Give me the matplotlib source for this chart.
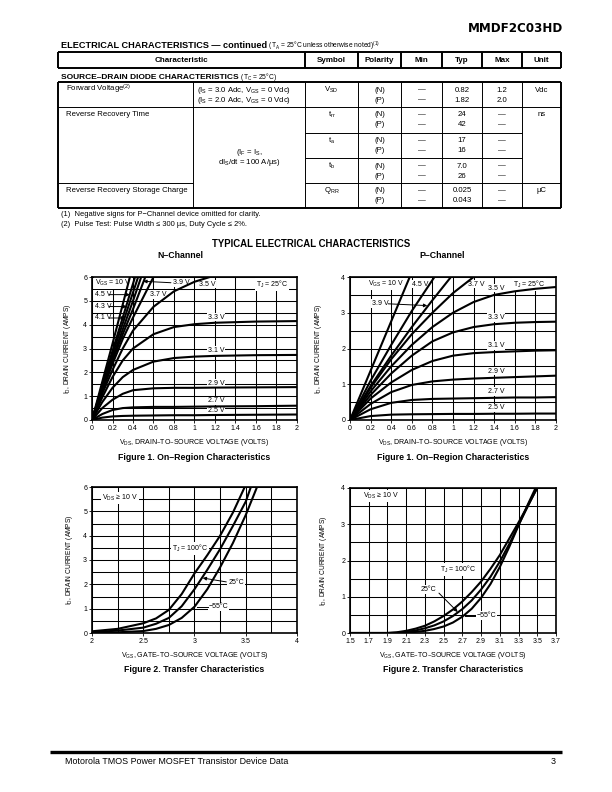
import matplotlib
matplotlib.use('Agg')
import matplotlib.pyplot as plt

plt.rcParams['font.family'] = ['Liberation Sans', 'DejaVu Sans']
plt.rcParams['mathtext.default'] = 'regular'

W, H = 612, 792

# ---------------- table data ----------------
col_heads = ['Characteristic', 'Symbol', 'Polarity', 'Min', 'Typ', 'Max', 'Unit']
col_edges = [58, 193, 305, 358, 401, 442, 482, 522, 561]

sym_rows = ['$V_{SD}$', '$t_{rr}$', '$t_{a}$', '$t_{b}$', '$Q_{RR}$']
typ_n = ['0.82', '24', '17', '7.0', '0.025']
typ_p = ['1.82', '42', '16', '26', '0.043']
max_n = ['1.2', '\u2014', '\u2014', '\u2014', '\u2014']
max_p = ['2.0', '\u2014', '\u2014', '\u2014', '\u2014']
row_tops = [82, 107, 133, 158, 183]

# ---------------- figure 1 data (on-region) ----------------
# N-channel, T_J = 25C
n_on_x_10 = [0, 0.1, 0.2, 0.3, 0.37]
n_on_y_10 = [0, 1.6, 3.2, 4.85, 6.0]
n_on_x_45 = [0, 0.1, 0.2, 0.3, 0.42]
n_on_y_45 = [0, 1.45, 2.9, 4.3, 6.0]
n_on_x_43 = [0, 0.1, 0.2, 0.3, 0.45]
n_on_y_43 = [0, 1.4, 2.75, 4.05, 6.0]
n_on_x_41 = [0, 0.1, 0.2, 0.3, 0.4, 0.48]
n_on_y_41 = [0, 1.35, 2.6, 3.8, 5.0, 6.0]
n_on_x_39 = [0, 0.1, 0.2, 0.3, 0.4, 0.52]
n_on_y_39 = [0, 1.3, 2.5, 3.6, 4.65, 6.0]
n_on_x_37 = [0, 0.1, 0.2, 0.3, 0.4, 0.5, 0.6]
n_on_y_37 = [0, 1.2, 2.35, 3.4, 4.3, 5.15, 6.0]
n_on_x_35 = [0, 0.1, 0.2, 0.3, 0.4, 0.6, 0.8, 1.0, 1.15]
n_on_y_35 = [0, 1.1, 2.1, 3.0, 3.75, 4.75, 5.4, 5.8, 6.0]
n_on_x_flat = [0, 0.1, 0.2, 0.3, 0.4, 0.6, 0.8, 1.0, 1.2, 1.6, 2.0]
n_on_y_33 = [0, 0.95, 1.8, 2.5, 3.0, 3.6, 3.9, 4.02, 4.08, 4.13, 4.15]
n_on_y_31 = [0, 0.75, 1.35, 1.8, 2.1, 2.45, 2.6, 2.66, 2.69, 2.72, 2.73]
n_on_y_29 = [0, 0.5, 0.85, 1.1, 1.25, 1.33, 1.35, 1.35, 1.36, 1.37, 1.38]
n_on_y_27 = [0, 0.25, 0.42, 0.5, 0.53, 0.55, 0.55, 0.56, 0.57, 0.58, 0.6]
n_on_y_25 = [0, 0.1, 0.15, 0.17, 0.18, 0.19, 0.2, 0.2, 0.21, 0.22, 0.23]

# P-channel, T_J = 25C
p_on_x_10 = [0, 0.2, 0.4, 0.58]
p_on_y_10 = [0, 1.38, 2.76, 4.0]
p_on_x_45 = [0, 0.2, 0.4, 0.6, 0.82]
p_on_y_45 = [0, 1.1, 2.1, 3.05, 4.0]
p_on_x_39 = [0, 0.2, 0.4, 0.6, 0.8, 0.98]
p_on_y_39 = [0, 0.95, 1.8, 2.6, 3.35, 4.0]
p_on_x_37 = [0, 0.2, 0.4, 0.6, 0.8, 1.0, 1.2]
p_on_y_37 = [0, 0.9, 1.7, 2.4, 3.0, 3.55, 4.0]
p_on_x_flat = [0, 0.2, 0.4, 0.6, 0.8, 1.0, 1.2, 1.4, 1.6, 1.8, 2.0]
p_on_y_35 = [0, 0.8, 1.5, 2.1, 2.6, 3.0, 3.3, 3.5, 3.6, 3.67, 3.72]
p_on_y_33 = [0, 0.7, 1.3, 1.8, 2.2, 2.45, 2.6, 2.68, 2.72, 2.74, 2.75]
p_on_y_31 = [0, 0.6, 1.05, 1.4, 1.65, 1.8, 1.87, 1.9, 1.92, 1.94, 1.95]
p_on_y_29 = [0, 0.45, 0.78, 0.98, 1.08, 1.13, 1.16, 1.18, 1.2, 1.22, 1.24]
p_on_y_27 = [0, 0.3, 0.48, 0.56, 0.59, 0.6, 0.61, 0.62, 0.63, 0.63, 0.64]
p_on_y_25 = [0, 0.11, 0.15, 0.16, 0.165, 0.17, 0.17, 0.175, 0.175, 0.18, 0.18]

# ---------------- figure 2 data (transfer) ----------------
n_tr_vgs = [2.0, 2.25, 2.5, 2.625, 2.75, 2.875, 3.0, 3.125, 3.25, 3.375]
n_tr_100 = [0.07, 0.17, 0.4, 0.6, 0.95, 1.6, 2.45, 3.2, 4.0, 4.95]
n_tr_25 = [0.03, 0.1, 0.22, 0.38, 0.62, 1.1, 1.8, 2.6, 3.45, 4.4]
n_tr_m55 = [0.01, 0.03, 0.08, 0.17, 0.33, 0.62, 1.08, 1.8, 2.7, 3.7]
n_tr_end_x = [3.49, 3.55, 3.61]
n_tr_end_mid = [None, 5.4, 4.85]   # value at 3.5 V where curve is still below 6 A

p_tr_vgs = [1.5, 1.9, 2.0, 2.1, 2.2, 2.3, 2.4, 2.5, 2.6, 2.7, 2.8, 2.9, 3.0, 3.1, 3.2, 3.3, 3.4, 3.5]
p_tr_100 = [0, 0, 0.02, 0.06, 0.12, 0.2, 0.32, 0.47, 0.65, 0.87, 1.13, 1.42, 1.77, 2.15, 2.6, 3.05, 3.52, 4.0]
p_tr_25 = [0, 0, 0.005, 0.03, 0.07, 0.13, 0.21, 0.32, 0.47, 0.66, 0.9, 1.2, 1.55, 1.97, 2.45, 2.98, 3.5, 4.02]
p_tr_m55 = [0, 0, 0, 0.01, 0.03, 0.06, 0.11, 0.18, 0.29, 0.45, 0.67, 0.97, 1.35, 1.82, 2.37, 2.97, 3.55, 4.1]


fig = plt.figure(figsize=(W / 100, H / 100), dpi=100)
page = fig.add_axes([0, 0, 1, 1])
page.set_xlim(0, W)
page.set_ylim(H, 0)
page.axis('off')

fs = 5.6

def hline(y, x0, x1, lw=0.7):
    page.plot([x0, x1], [y, y], color='k', lw=lw, solid_capstyle='butt')

def vline(x, y0, y1, lw=0.7):
    page.plot([x, x], [y0, y1], color='k', lw=lw, solid_capstyle='butt')

def put(x, y, s, ha='center', size=fs, weight='normal'):
    return page.text(x, y, s, ha=ha, va='center', fontsize=size, fontweight=weight)

# header text
page.text(563, 28, 'MMDF2C03HD', ha='right', va='center', fontsize=8.6,
          fontweight='heavy', family='DejaVu Sans')
t1 = page.text(61, 48, 'ELECTRICAL CHARACTERISTICS \u2014 continued', ha='left',
               va='baseline', fontsize=6.6, fontweight='bold')
page.annotate(' (T$_A$ = 25\u00b0C unless otherwise noted)$^{(1)}$', xy=(1, 0),
              xycoords=t1, xytext=(0, 1.3), textcoords='offset points',
              ha='left', va='baseline', fontsize=4.8)

# table header
hl = 1.4
hline(52, col_edges[0], col_edges[-1], hl)
hline(68, col_edges[0], col_edges[-1], hl)
for x in [col_edges[0]] + col_edges[2:]:
    vline(x, 52, 68, hl)
heads_x = [(col_edges[0] + col_edges[2]) / 2] + \
    [(col_edges[i] + col_edges[i + 1]) / 2 for i in range(2, 8)]
for s, x in zip(col_heads, heads_x):
    put(x, 60, s, weight='bold', size=5.8)

t2 = page.text(61, 79, 'SOURCE\u2013DRAIN DIODE CHARACTERISTICS', ha='left',
               va='baseline', fontsize=6.0, fontweight='bold')
page.annotate(' (T$_C$ = 25\u00b0C)', xy=(1, 0), xycoords=t2,
              xytext=(0, 1.3), textcoords='offset points',
              ha='left', va='baseline', fontsize=4.8)

# table body
top, bot = 82, 208
hline(top, col_edges[0], col_edges[-1], hl)
hline(bot, col_edges[0], col_edges[-1], hl)
vline(col_edges[0], top, bot, hl)
vline(col_edges[-1], top, bot, hl)
for x in col_edges[1:-1]:
    vline(x, top, bot)
hline(107, col_edges[0], col_edges[-1])
hline(133, col_edges[2], col_edges[7])
hline(158, col_edges[2], col_edges[7])
hline(183, col_edges[0], col_edges[1])
hline(183, col_edges[2], col_edges[-1])

cx = [(col_edges[i] + col_edges[i + 1]) / 2 for i in range(8)]
for i, yt in enumerate(row_tops):
    y1, y2 = yt + 8, yt + 18
    put(cx[2], y1, sym_rows[i])
    put(cx[3], y1, '(N)')
    put(cx[3], y2, '(P)')
    put(cx[4], y1, '\u2014')
    put(cx[4], y2, '\u2014')
    put(cx[5], y1, typ_n[i])
    put(cx[5], y2, typ_p[i])
    put(cx[6], y1, max_n[i])
    put(cx[6], y2, max_p[i])

put(66, 89, 'Forward Voltage$^{(2)}$', ha='left')
put(197, 90, '(I$_S$ = 3.0 Adc, V$_{GS}$ = 0 Vdc)', ha='left')
put(197, 100, '(I$_S$ = 2.0 Adc, V$_{GS}$ = 0 Vdc)', ha='left')
put(cx[7], 90, 'Vdc')
put(66, 115, 'Reverse Recovery Time', ha='left')
put(66, 190, 'Reverse Recovery Storage Charge', ha='left')
put(249, 153, '(I$_F$ = I$_S$,')
put(249, 163, 'dI$_S$/dt = 100 A/\u00b5s)')
put(cx[7], 115, 'ns')
put(cx[7], 190, '\u00b5C')

put(61, 214, '(1)  Negative signs for P\u2212Channel device omitted for clarity.', ha='left', size=5.4)
put(61, 224, '(2)  Pulse Test: Pulse Width \u2264 300 \u00b5s, Duty Cycle \u2264 2%.', ha='left', size=5.4)

put(311, 244, 'TYPICAL ELECTRICAL CHARACTERISTICS', size=6.9, weight='bold')
put(180, 256, 'N\u2013Channel', size=6.3, weight='bold')
put(442, 256, 'P\u2013Channel', size=6.3, weight='bold')
for xc in (194, 453):
    put(xc, 457, 'Figure 1. On\u2013Region Characteristics', size=6.3, weight='bold')
    put(xc, 669, 'Figure 2. Transfer Characteristics', size=6.3, weight='bold')

# footer
hline(752, 50, 562, 2.4)
put(65, 761, 'Motorola TMOS Power MOSFET Transistor Device Data', ha='left', size=6.4)
put(553, 761, '3', size=6.4)


# ---------------- charts ----------------
def px_axes(l, t, r, b):
    return fig.add_axes([l / W, 1 - b / H, (r - l) / W, (b - t) / H])

def style(ax, xlim, ylim, xmaj, xlab, ymaj, xgrid, ygrid, xlabel, ylx):
    ax.set_xlim(xlim)
    ax.set_ylim(ylim)
    ax.set_xticks(xmaj)
    ax.set_xticklabels(xlab)
    ax.set_yticks(ymaj)
    ax.set_yticklabels([str(v) for v in ymaj])
    ax.set_xticks(xgrid, minor=True)
    ax.set_yticks(ygrid, minor=True)
    ax.set_axisbelow(True)
    ax.grid(which='both', color='k', lw=0.75)
    ax.tick_params(which='major', length=2, width=0.6, labelsize=5, pad=1.5)
    ax.tick_params(which='minor', length=0)
    for s in ax.spines.values():
        s.set_linewidth(1.2)
    ax.set_xlabel(xlabel, fontsize=5, labelpad=4)
    ax.set_ylabel('I$_D$, DRAIN CURRENT (AMPS)', fontsize=4.8)
    ax.yaxis.set_label_coords(ylx, 0.5)

def lab(ax, x, y, s, ha='left'):
    ax.text(x, y, s, fontsize=5, ha=ha, va='center', zorder=1,
            bbox=dict(facecolor='white', edgecolor='none', pad=0.6))

def arrow(ax, x0, y0, x1, y1):
    ax.annotate('', xy=(x1, y1), xytext=(x0, y0), zorder=3,
                arrowprops=dict(arrowstyle='-|>', lw=0.7, color='k',
                                mutation_scale=5, shrinkA=0, shrinkB=0))

def leader(ax, x0, y0, x1, y1):
    ax.plot([x0, x1], [y0, y1], color='k', lw=0.7, zorder=3)

cl = dict(color='k', lw=1.5, zorder=2, solid_capstyle='butt')
on_xt = [0, 0.2, 0.4, 0.6, 0.8, 1, 1.2, 1.4, 1.6, 1.8, 2]
on_xl = ['0', '0.2', '0.4', '0.6', '0.8', '1', '1.2', '1.4', '1.6', '1.8', '2']
vds_label = 'V$_{DS}$, DRAIN\u2013TO\u2013SOURCE VOLTAGE (VOLTS)'
vgs_label = 'V$_{GS}$, GATE\u2013TO\u2013SOURCE VOLTAGE (VOLTS)'

# Figure 1, N-channel
ax = px_axes(92, 277, 297, 420)
style(ax, (0, 2), (0, 6), on_xt, on_xl, list(range(7)), on_xt,
      [i * 0.5 for i in range(13)], vds_label, -0.095)
for xs, ys in [(n_on_x_10, n_on_y_10), (n_on_x_45, n_on_y_45), (n_on_x_43, n_on_y_43),
               (n_on_x_41, n_on_y_41), (n_on_x_39, n_on_y_39), (n_on_x_37, n_on_y_37),
               (n_on_x_35, n_on_y_35)]:
    ax.plot(xs, ys, **cl)
for ys in [n_on_y_33, n_on_y_31, n_on_y_29, n_on_y_27, n_on_y_25]:
    ax.plot(n_on_x_flat, ys, **cl)
lab(ax, 0.03, 5.76, 'V$_{GS}$ = 10 V')
lab(ax, 0.03, 5.26, '4.5 V')
lab(ax, 0.03, 4.76, '4.3 V')
lab(ax, 0.03, 4.28, '4.1 V')
arrow(ax, 0.17, 5.26, 0.37, 5.26)
arrow(ax, 0.17, 4.76, 0.34, 4.76)
arrow(ax, 0.17, 4.28, 0.32, 4.28)
lab(ax, 0.79, 5.76, '3.9 V')
arrow(ax, 0.77, 5.76, 0.5, 5.82)
lab(ax, 0.57, 5.26, '3.7 V')
lab(ax, 1.04, 5.7, '3.5 V')
lab(ax, 1.6, 5.7, 'T$_J$ = 25\u00b0C')
lab(ax, 1.13, 4.32, '3.3 V')
lab(ax, 1.13, 2.93, '3.1 V')
lab(ax, 1.13, 1.55, '2.9 V')
lab(ax, 1.13, 0.8, '2.7 V')
lab(ax, 1.13, 0.38, '2.5 V')

# Figure 1, P-channel
ax = px_axes(350, 277, 556, 420)
style(ax, (0, 2), (0, 4), on_xt, on_xl, list(range(5)), on_xt,
      [i * 0.5 for i in range(9)], vds_label, -0.125)
for xs, ys in [(p_on_x_10, p_on_y_10), (p_on_x_45, p_on_y_45),
               (p_on_x_39, p_on_y_39), (p_on_x_37, p_on_y_37)]:
    ax.plot(xs, ys, **cl)
for ys in [p_on_y_35, p_on_y_33, p_on_y_31, p_on_y_29, p_on_y_27, p_on_y_25]:
    ax.plot(p_on_x_flat, ys, **cl)
lab(ax, 0.17, 3.8, 'V$_{GS}$ = 10 V')
lab(ax, 0.6, 3.8, '4.5 V')
lab(ax, 1.15, 3.8, '3.7 V')
lab(ax, 1.34, 3.69, '3.5 V')
lab(ax, 1.58, 3.8, 'T$_J$ = 25\u00b0C')
lab(ax, 0.21, 3.25, '3.9 V')
arrow(ax, 0.37, 3.25, 0.75, 3.2)
lab(ax, 1.34, 2.86, '3.3 V')
lab(ax, 1.34, 2.08, '3.1 V')
lab(ax, 1.34, 1.37, '2.9 V')
lab(ax, 1.34, 0.8, '2.7 V')
lab(ax, 1.34, 0.34, '2.5 V')

# Figure 2, N-channel
ax = px_axes(92, 487, 297, 633)
style(ax, (2, 4), (0, 6), [2, 2.5, 3, 3.5, 4], ['2', '2.5', '3', '3.5', '4'],
      list(range(7)), [2 + i * 0.25 for i in range(9)],
      [i * 0.5 for i in range(13)], vgs_label, -0.085)
ax.plot(n_tr_vgs + [n_tr_end_x[0]], n_tr_100 + [6.0], **cl)
ax.plot(n_tr_vgs + [3.5, n_tr_end_x[1]], n_tr_25 + [n_tr_end_mid[1], 6.0], **cl)
ax.plot(n_tr_vgs + [3.5, n_tr_end_x[2]], n_tr_m55 + [n_tr_end_mid[2], 6.0], **cl)
lab(ax, 2.1, 5.55, 'V$_{DS}$ \u2265 10 V')
lab(ax, 2.78, 3.47, 'T$_J$ = 100\u00b0C')
lab(ax, 3.33, 2.06, '25\u00b0C')
arrow(ax, 3.31, 2.1, 3.08, 2.26)
leader(ax, 3.02, 1.07, 3.13, 1.07)
lab(ax, 3.14, 1.07, '\u221255\u00b0C')

# Figure 2, P-channel
ax = px_axes(350, 488, 556, 633)
p_xt = [1.5 + i * 0.2 for i in range(12)]
style(ax, (1.5, 3.7), (0, 4), p_xt, ['%.1f' % v for v in p_xt],
      list(range(5)), p_xt, [i * 0.5 for i in range(9)], vgs_label, -0.1)
for ys in [p_tr_100, p_tr_25, p_tr_m55]:
    ax.plot(p_tr_vgs, ys, **cl)
lab(ax, 1.64, 3.78, 'V$_{DS}$ \u2265 10 V')
lab(ax, 2.46, 1.76, 'T$_J$ = 100\u00b0C')
lab(ax, 2.25, 1.2, '25\u00b0C')
arrow(ax, 2.45, 1.1, 2.65, 0.58)
leader(ax, 2.73, 0.48, 2.84, 0.48)
lab(ax, 2.85, 0.48, '\u221255\u00b0C')

fig.savefig('out.png', dpi=100)
